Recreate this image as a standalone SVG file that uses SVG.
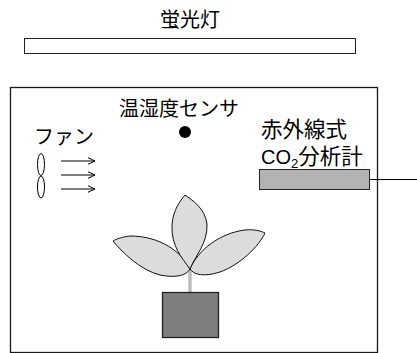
<svg xmlns="http://www.w3.org/2000/svg" width="417" height="353" viewBox="0 0 417 353">
  <defs>
    <style>
      .t { font-family: "Liberation Sans", "Noto Sans CJK JP", sans-serif; font-size: 20px; fill: #000; }
      .big { font-size: 21.5px; }
      .frame { fill: #fff; stroke: #1a1a1a; stroke-width: 1.3; }
      .leaf { fill: #dcdcdc; stroke: #111; stroke-width: 1; stroke-linejoin: round; }
      .flow { stroke: #000; stroke-width: 1; fill: none; }
    </style>
    <marker id="chev" viewBox="0 0 8 8" refX="7.5" refY="4" markerWidth="8" markerHeight="8" markerUnits="userSpaceOnUse" orient="auto">
      <path d="M0,0.5 L7.5,4 L0,7.5" fill="none" stroke="#000" stroke-width="1"/>
    </marker>
  </defs>

  <rect width="417" height="353" fill="#fff"/>

  <!-- fluorescent lamp above the chamber -->
  <g id="lamp">
    <text class="t" x="190" y="26.5" text-anchor="middle">蛍光灯</text>
    <rect x="24.5" y="38.5" width="331" height="15" fill="#fff" stroke="#222" stroke-width="1"/>
  </g>

  <!-- growth chamber -->
  <g id="chamber">
    <rect class="frame" x="10.5" y="87.5" width="367" height="265"/>
  </g>

  <!-- temperature / humidity sensor -->
  <g id="sensor">
    <text class="t" x="119" y="116">温湿度センサ</text>
    <circle cx="185" cy="132" r="6" fill="#000"/>
  </g>

  <!-- fan -->
  <g id="fan">
    <text class="t" x="34" y="144">ファン</text>
    <ellipse cx="41" cy="164.5" rx="3.5" ry="11" fill="#fff" stroke="#000" stroke-width="1"/>
    <ellipse cx="41" cy="187" rx="3.5" ry="11" fill="#fff" stroke="#000" stroke-width="1"/>
  </g>

  <!-- infrared CO2 analyzer -->
  <g id="analyzer">
    <text class="t big" x="261" y="137">赤外線式</text>
    <text class="t big" x="261" y="163.5"><tspan font-size="20">CO</tspan><tspan font-size="13" dy="4">2</tspan><tspan dy="-4">分析計</tspan></text>
    <rect x="259.5" y="169.5" width="110" height="20" fill="#b3b3b3" stroke="#222" stroke-width="1"/>
  </g>

  <!-- plant in pot -->
  <g id="plant">
    <line x1="190" y1="269" x2="190" y2="293" stroke="#bdbdbd" stroke-width="3.5"/>
    <rect x="162.5" y="292.5" width="56" height="45" fill="#7f7f7f" stroke="#222" stroke-width="1.3"/>
    <path class="leaf" d="M190,269 C182,252 160,236 130,236 C122,237 116,239 113,241 C122,252 140,270 160,275 C175,278 186,276 190,269 Z"/>
    <path class="leaf" d="M190,269 C198,250 220,233 245,230 C254,229 261,231 265,233 C259,246 240,265 220,272 C204,277 194,275 190,269 Z"/>
    <path class="leaf" d="M190,269 C182,258 171,246 172,225 C173,210 180,201 185,195 C192,200 205,208 207,224 C208,243 195,256 190,269 Z"/>
  </g>

  <!-- connectors: air flow arrows and analyzer lead -->
  <g id="connectors">
    <line class="flow" x1="61" y1="161" x2="95" y2="161" marker-end="url(#chev)"/>
    <line class="flow" x1="61" y1="175" x2="95" y2="175" marker-end="url(#chev)"/>
    <line class="flow" x1="61" y1="189" x2="95" y2="189" marker-end="url(#chev)"/>
    <line x1="369.5" y1="179.5" x2="417" y2="179.5" stroke="#000" stroke-width="1"/>
  </g>
</svg>
